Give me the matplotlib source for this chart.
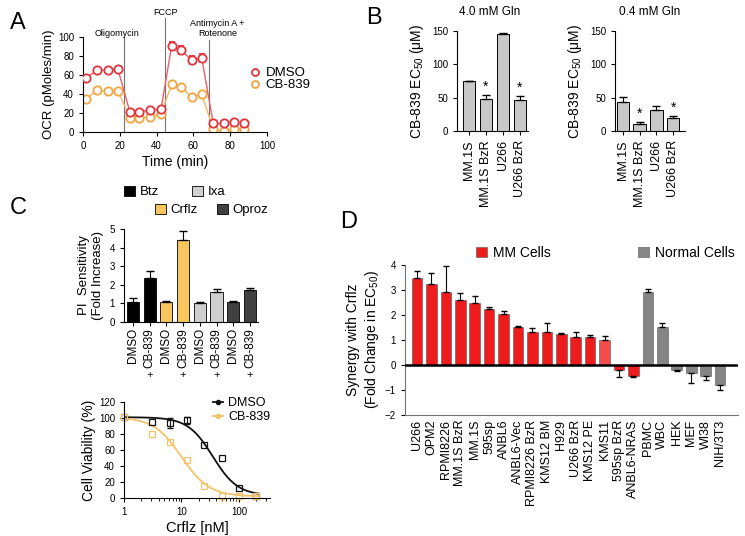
import numpy as np
import matplotlib
matplotlib.use("Agg")
import matplotlib.pyplot as plt
from matplotlib.patches import Patch
from matplotlib.lines import Line2D

# ----------------------------------------------------------------------
# DATA
# ----------------------------------------------------------------------
# A: Seahorse OCR trace
time_a = [1.6, 7.6, 13.6, 19, 25.5, 30.4, 36.4, 42.4, 48.2, 53.1, 59.1, 64.5, 70.8, 76.6, 82.2, 87.7]
ocr_dmso = [57, 65, 65, 66, 21, 21, 23, 24, 91, 86, 76, 78, 9, 9, 11, 9]
ocr_dmso_err = [2, 1.5, 1.5, 1.5, 2, 1.5, 1.5, 2, 4, 4, 4, 4, 1.5, 1, 1, 1]
ocr_cb = [35, 44, 43, 43, 15, 15, 16, 19, 50, 47, 37, 40, 3, 1, 3, 3]
inject_time = [22.3, 44.6, 68.5]
inject_names = ["Oligomycin", "FCCP", "Antimycin A +\nRotenone"]

# B: CB-839 EC50
cells_b = ["MM.1S", "MM.1S BzR", "U266", "U266 BzR"]
ec50_hi = [75, 48, 145, 46]
ec50_hi_err = [0.5, 6, 2, 7]
ec50_lo = [43, 10, 32, 20]
ec50_lo_err = [8, 3, 5, 2]
sig_b = [False, True, False, True]

# C top: PI sensitivity
drugs_c = ["Btz", "Crflz", "Ixa", "Oproz"]
drug_colors = ["#000000", "#F8C55E", "#CFCFCF", "#404040"]
pi_dmso = [1.1, 1.05, 1.02, 1.05]
pi_dmso_err = [0.18, 0.1, 0.06, 0.08]
pi_cb = [2.35, 4.4, 1.6, 1.7]
pi_cb_err = [0.4, 0.5, 0.15, 0.15]

# C bottom: dose response
crflz_nm = [1, 3.125, 6.25, 12.5, 25, 50, 100, 200]
via_dmso = [101, 95, 94, 97, 66, 50, 12, 3]
via_dmso_err = [0, 0, 6, 4, 0, 0, 0, 0]
via_cb = [101, 80, 70, 47, 15, 3, 2, 2]
ec50_dmso, hill_dmso = 35.0, 2.0
ec50_cb, hill_cb = 10.0, 1.8

# D: synergy with Crflz
cells_d = ["U266", "OPM2", "RPMI8226", "MM.1S BzR", "MM.1S", "595sp", "ANBL6",
           "ANBL6-Vec", "RPMI8226 BzR", "KMS12 BM", "H929", "U266 BzR", "KMS12 PE",
           "KMS11", "595sp BzR", "ANBL6-NRAS", "PBMC", "WBC", "HEK", "MEF", "WI38",
           "NIH/3T3"]
synergy = [3.47, 3.24, 2.92, 2.59, 2.49, 2.25, 2.03, 1.53, 1.34, 1.33, 1.25, 1.13,
           1.12, 1.0, -0.21, -0.45, 2.92, 1.54, -0.19, -0.33, -0.45, -0.81]
synergy_err = [0.30, 0.45, 1.05, 0.28, 0.26, 0.09, 0.14, 0.05, 0.14, 0.34, 0.03, 0.2,
               0.09, 0.18, 0.26, 0.03, 0.11, 0.16, 0.05, 0.37, 0.13, 0.17]

# ----------------------------------------------------------------------
# STYLE
# ----------------------------------------------------------------------
plt.rcParams.update({
    "font.family": ["Liberation Sans", "DejaVu Sans"],
    "mathtext.fontset": "custom",
    "mathtext.rm": "Liberation Sans",
    "mathtext.default": "regular",
    "axes.linewidth": 0.8,
    "xtick.direction": "out",
    "ytick.direction": "out",
    "xtick.major.size": 3,
    "ytick.major.size": 3,
    "xtick.labelsize": 7,
    "ytick.labelsize": 7,
    "axes.spines.top": False,
    "axes.spines.right": False,
})

W, H = 745, 536
fig = plt.figure(figsize=(W / 100, H / 100), dpi=100)


def px_axes(l, t, r, b):
    return fig.add_axes([l / W, 1 - b / H, (r - l) / W, (b - t) / H])


def fx(x):
    return x / W


def fy(y):
    return 1 - y / H


def legend_item(x, y, handle, label, size=9):
    fig.legend(handles=[handle], labels=[label], loc="center left",
               bbox_to_anchor=(fx(x), fy(y)), frameon=False, borderpad=0,
               borderaxespad=0, handlelength=0.8, handleheight=0.8,
               handletextpad=0.4, fontsize=size)


# panel letters
for letter, x, y in [("A", 10, 23), ("B", 366, 18), ("C", 10, 208), ("D", 340, 222)]:
    fig.text(fx(x), fy(y), letter, fontsize=17, va="center", ha="left")

# ----------------------------------------------------------------------
# A
# ----------------------------------------------------------------------
ax = px_axes(83, 37, 267, 132)
red, orange = "#E2343C", "#F3A53F"
ax.plot(time_a, ocr_cb, "-", color="#F6B866", lw=1, zorder=1)
ax.plot(time_a, ocr_cb, "o", mfc="white", mec=orange, mew=1.3, ms=6, zorder=2)
ax.plot(time_a, ocr_dmso, "-", color="#E86068", lw=1, zorder=3)
ax.errorbar(time_a, ocr_dmso, yerr=ocr_dmso_err, fmt="o", mfc="white", mec=red,
            ecolor=red, mew=1.3, ms=6, elinewidth=1, capsize=2, zorder=4)
tops = [100, 120, 97]
for t, top, name, tx, ty in zip(inject_time, tops, inject_names,
                                [18.5, 44.6, 73], [104, 126, 109]):
    ax.plot([t, t], [0, top], color="0.45", lw=0.8, clip_on=False, zorder=0)
    ax.text(tx, ty, name, fontsize=6.5, ha="center", va="center", linespacing=1.1)
ax.set_xlim(0, 100)
ax.set_ylim(0, 100)
ax.set_xticks(range(0, 101, 20))
ax.set_yticks(range(0, 101, 20))
ax.set_xlabel("Time (min)", fontsize=10, labelpad=3)
ax.set_ylabel("OCR (pMoles/min)", fontsize=9.5, labelpad=2)
legend_item(250, 73, Line2D([], [], marker="o", ls="none", mfc="white", mec=red, mew=1.3, ms=5),
            "DMSO", 9.5)
legend_item(250, 85, Line2D([], [], marker="o", ls="none", mfc="white", mec=orange, mew=1.3, ms=5),
            "CB-839", 9.5)

# ----------------------------------------------------------------------
# B
# ----------------------------------------------------------------------
for (l, r, c0, sp, vals, errs, title, tx) in [
        (457, 528, 469, 17, ec50_hi, ec50_hi_err, "4.0 mM Gln", 490),
        (615, 685, 623, 16.7, ec50_lo, ec50_lo_err, "0.4 mM Gln", 650)]:
    ax = px_axes(l, 31, r, 131)
    x = np.arange(len(vals))
    ax.bar(x, vals, width=0.76, color="#C8C8C8", edgecolor="black", lw=0.7)
    ax.errorbar(x, vals, yerr=[np.zeros(len(errs)), errs], fmt="none",
                ecolor="black", elinewidth=0.8, capsize=3)
    for xi, v, e, s in zip(x, vals, errs, sig_b):
        if s:
            ax.text(xi, v + e + 2, "*", ha="center", va="bottom", fontsize=10)
    ax.set_xlim(-(c0 - l) / sp, 3 + (r - c0 - 3 * sp) / sp)
    ax.set_ylim(0, 150)
    ax.set_yticks([0, 50, 100, 150])
    ax.set_xticks(x)
    ax.set_xticklabels(cells_b, rotation=90, fontsize=9)
    ax.set_ylabel("CB-839 EC$_{50}$ (\u03bcM)", fontsize=10, labelpad=4)
    fig.text(fx(tx), fy(12), title, fontsize=8.5, ha="center", va="center")

# ----------------------------------------------------------------------
# C top
# ----------------------------------------------------------------------
ax = px_axes(124, 229, 258, 322)
sp = 16.7
xb = np.arange(8)
vals = [v for pair in zip(pi_dmso, pi_cb) for v in pair]
errs = [e for pair in zip(pi_dmso_err, pi_cb_err) for e in pair]
cols = [c for c in drug_colors for _ in range(2)]
ax.bar(xb, vals, width=0.72, color=cols, edgecolor="black", lw=0.6)
ax.errorbar(xb, vals, yerr=[np.zeros(8), errs], fmt="none", ecolor="black",
            elinewidth=0.8, capsize=3)
ax.set_xlim(-(133 - 124) / sp, (258 - 133) / sp)
ax.set_ylim(0, 5)
ax.set_yticks(range(6))
ax.set_xticks(xb)
ax.set_xticklabels(["DMSO", "CB-839"] * 4, rotation=90, fontsize=8.5)
ax.tick_params(axis="x", pad=1.5)
ax.set_ylabel("PI  Sensitivity\n(Fold Increase)", fontsize=9.5, labelpad=4)
for xi in xb[1::2]:
    fig.text(fx(133 + xi * sp), fy(375), "+", ha="center", va="center", fontsize=8)
for (x, y), name, col in zip([(124, 192), (155, 210), (192, 192), (217, 210)],
                             drugs_c, drug_colors):
    legend_item(x, y, Patch(facecolor=col, edgecolor="black", lw=0.6), name, 9.5)

# ----------------------------------------------------------------------
# C bottom
# ----------------------------------------------------------------------
ax = px_axes(124, 402, 270, 498)
dark, yellow = "#111111", "#F2C46A"
xc = np.logspace(0, np.log10(220), 200)
ax.plot(xc, 3 + 98 / (1 + (xc / ec50_dmso) ** hill_dmso), color=dark, lw=1.3)
ax.plot(xc, 2 + 99 / (1 + (xc / ec50_cb) ** hill_cb), color=yellow, lw=1.3)
with_err = [i for i, e in enumerate(via_dmso_err) if e > 0]
ax.errorbar([crflz_nm[i] for i in with_err], [via_dmso[i] for i in with_err],
            yerr=[via_dmso_err[i] for i in with_err], fmt="none", ecolor=dark,
            elinewidth=0.8, capsize=2)
ax.plot(crflz_nm, via_dmso, "s", mfc="none", mec=dark, ms=4, mew=0.9, clip_on=False)
ax.plot(crflz_nm, via_cb, "s", mfc="none", mec=yellow, ms=4, mew=0.9, clip_on=False)
ax.set_xscale("log")
ax.set_xlim(1, 10 ** 2.54)
ax.set_ylim(0, 120)
ax.set_yticks(range(0, 121, 20))
ax.set_xticks([1, 10, 100])
ax.set_xticklabels(["1", "10", "100"])
ax.set_xlabel("Crflz [nM]", fontsize=10.5, labelpad=3)
ax.set_ylabel("Cell Viability (%)", fontsize=10, labelpad=2)
legend_item(213, 403, Line2D([], [], color=dark, marker="o", ms=3, lw=1.3), "DMSO", 9)
legend_item(213, 417, Line2D([], [], color=yellow, marker="o", ms=3, lw=1.3), "CB-839", 9)

# ----------------------------------------------------------------------
# D
# ----------------------------------------------------------------------
ax = px_axes(405, 265, 738, 415)
sp = 14.43
xd = np.arange(len(cells_d))
cols = ["#EE1C1C"] * 13 + ["#F24C4C"] + ["#EE1C1C"] * 2 + ["#858585"] * 6
ax.bar(xd, synergy, width=0.74, color=cols, edgecolor="#555555", lw=0.4, zorder=2)
lo = [e if v < 0 else 0 for v, e in zip(synergy, synergy_err)]
hi = [e if v >= 0 else 0 for v, e in zip(synergy, synergy_err)]
ax.errorbar(xd, synergy, yerr=[lo, hi], fmt="none", ecolor="black",
            elinewidth=0.8, capsize=2.5, zorder=3)
ax.axhline(0, color="black", lw=1.8, zorder=4)
ax.set_xlim(-(417 - 405) / sp, (738 - 417) / sp)
ax.set_ylim(-2, 4)
ax.set_yticks(range(-2, 5))
ax.spines["left"].set_color("0.45")
ax.spines["bottom"].set_color("0.45")
ax.tick_params(axis="x", length=0)
ax.set_xticks(xd)
ax.set_xticklabels(cells_d, rotation=90, fontsize=9)
ax.set_ylabel("Synergy with Crflz\n(Fold Change in EC$_{50}$)", fontsize=10, labelpad=3)
legend_item(476, 253, Patch(facecolor="#EE1C1C", edgecolor="#555555", lw=0.4), "MM Cells", 10)
legend_item(638, 253, Patch(facecolor="#858585", edgecolor="#555555", lw=0.4), "Normal Cells", 10)

fig.savefig("out.png", dpi=100)
